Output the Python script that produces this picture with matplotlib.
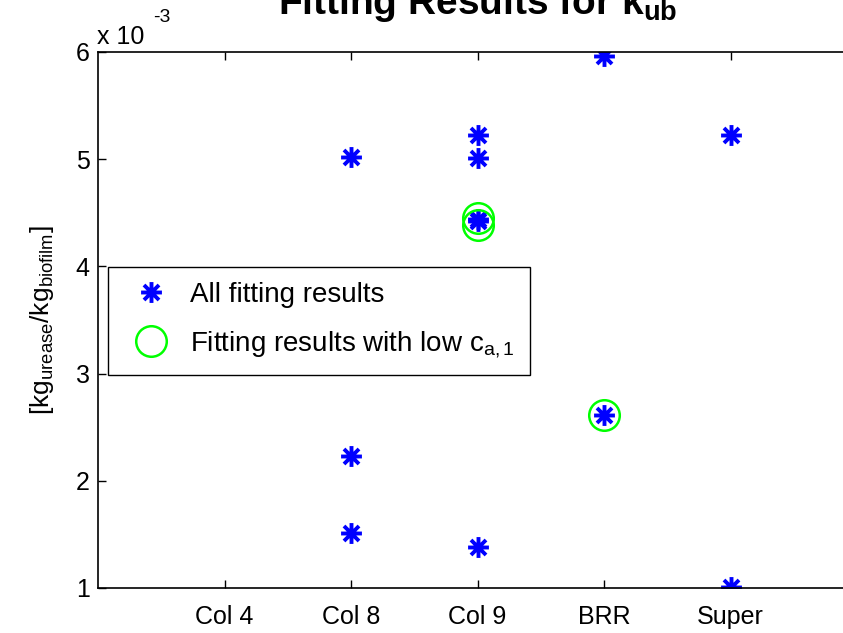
import numpy as np
import matplotlib
matplotlib.use("Agg")
import matplotlib.pyplot as plt
from matplotlib.path import Path

plt.rcParams['font.family'] = ['Liberation Sans', 'DejaVu Sans']
plt.rcParams['mathtext.fontset'] = 'custom'
plt.rcParams['mathtext.rm'] = 'Liberation Sans'
plt.rcParams['mathtext.it'] = 'Liberation Sans:italic'
plt.rcParams['mathtext.bf'] = 'Liberation Sans:bold'

# categories on the x axis (positions 1..5)
categories = ["Col 4", "Col 8", "Col 9", "BRR", "Super"]

# all fitting results, values in units of 1e-3
all_x = [2, 2, 2, 3, 3, 3, 3, 3, 4, 4, 5, 5]
all_y = [5.02, 2.23, 1.51, 5.23, 5.01, 4.44, 4.42, 1.38, 5.96, 2.61, 5.23, 1.01]

# results with low c_a,1
low_x = [3, 3, 4]
low_y = [4.45, 4.39, 2.61]

# MATLAB-like asterisk marker (8 arms)
d = 0.72
verts = [(-1, 0), (1, 0), (0, -1), (0, 1), (-d, -d), (d, d), (-d, d), (d, -d)]
codes = [Path.MOVETO, Path.LINETO] * 4
star = Path(verts, codes)

fig = plt.figure(figsize=(8.43, 6.33), dpi=100)
ax = fig.add_axes([0.1163, 0.0711, 0.9004, 0.8468])

ax.plot(all_x, all_y, linestyle='none', marker=star, markersize=15,
        markeredgewidth=2.8, color='#0000ff', mfc='none',
        label='All fitting results')
ax.plot(low_x, low_y, linestyle='none', marker='o', markersize=22,
        markeredgewidth=1.8, mec='#00ff00', mfc='none',
        label=r'Fitting results with low c$_{\mathrm{a,1}}$')

ax.set_xlim(0, 6)
ax.set_ylim(1, 6)
ax.set_xticks(range(1, 6))
ax.set_xticklabels(categories)
ax.set_yticks(range(1, 7))
ax.tick_params(direction='in', length=6, width=1, labelsize=18, top=True,
               colors='#000000')
ax.tick_params(axis='x', pad=12)
ax.tick_params(axis='y', pad=6)
for s in ax.spines.values():
    s.set_linewidth(1.2)

ax.set_ylabel(r'[kg$_{\mathrm{urease}}$/kg$_{\mathrm{biofilm}}$]', fontsize=19,
              labelpad=14)

# axis multiplier, drawn as in the original figure
fig.text(97 / 843, 1 - 44 / 633, 'x 10', fontsize=18,
         ha='left', va='baseline')
fig.text(153 / 843, 1 - 22 / 633, '-3', fontsize=14,
         ha='left', va='baseline')
fig.text(278 / 843, 1 - 14 / 633, r'Fitting Results for k$_{\mathbf{ub}}$',
         fontsize=28, fontweight='bold',
         ha='left', va='baseline')

leg = ax.legend(loc='upper left', bbox_to_anchor=(0.013, 0.599), fontsize=20,
                fancybox=False, framealpha=1, edgecolor='black',
                borderpad=0.55, labelspacing=0.75, handlelength=2.0,
                handletextpad=0.4, borderaxespad=0)
leg.get_frame().set_linewidth(1.0)

fig.savefig("out.png", dpi=100)
